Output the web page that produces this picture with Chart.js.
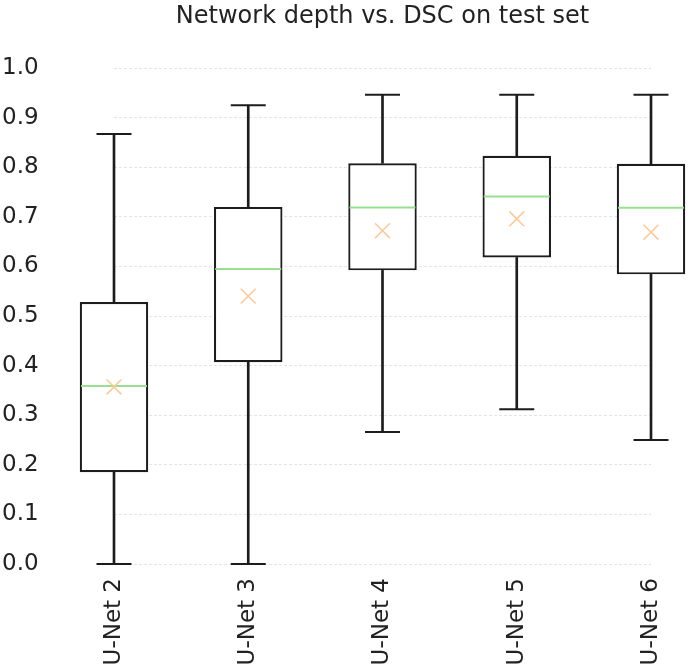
<!DOCTYPE html>
<html>
<head>
<meta charset="utf-8">
<script src="https://cdn.jsdelivr.net/npm/chart.js@4.4.1/dist/chart.umd.min.js"></script>
<style>
  html, body { margin: 0; padding: 0; background: #fff; }
  #wrap { width: 688px; height: 668px; }
</style>
</head>
<body>
<div id="wrap"><canvas id="c" width="688" height="668"></canvas></div>
<script>
const categories = ["U-Net 2", "U-Net 3", "U-Net 4", "U-Net 5", "U-Net 6"];
const whiskerLow = [0.0, 0.0, 0.266, 0.312, 0.250];
const q1 = [0.185, 0.407, 0.592, 0.618, 0.584];
const median = [0.359, 0.595, 0.719, 0.741, 0.718];
const mean = [0.357, 0.540, 0.672, 0.696, 0.669];
const q3 = [0.528, 0.720, 0.808, 0.823, 0.807];
const whiskerHigh = [0.867, 0.925, 0.946, 0.946, 0.946];
const yTicks = [0.0, 0.1, 0.2, 0.3, 0.4, 0.5, 0.6, 0.7, 0.8, 0.9, 1.0];
const titleText = "Network depth vs. DSC on test set";

const FONT = "'DejaVu Sans', sans-serif";
const lineCol = '#1c1c1c';

const titlePlugin = {
  id: 'centerTitle',
  afterDraw(chart) {
    const ctx = chart.ctx;
    const a = chart.chartArea;
    ctx.save();
    ctx.font = "24px " + FONT;
    ctx.fillStyle = '#222';
    ctx.textAlign = 'center';
    ctx.textBaseline = 'alphabetic';
    ctx.fillText(titleText, (a.left + a.right) / 2, 23);
    ctx.restore();
  }
};

new Chart(document.getElementById('c'), {
  type: 'bar',
  data: {
    labels: categories,
    datasets: [
      {
        type: 'bar', label: 'upper whisker', order: 5, grouped: false, clip: false,
        data: categories.map((_, i) => [q3[i], whiskerHigh[i]]),
        backgroundColor: lineCol, borderWidth: 0, barThickness: 2
      },
      {
        type: 'bar', label: 'lower whisker', order: 5, grouped: false, clip: false,
        data: categories.map((_, i) => [whiskerLow[i], q1[i]]),
        backgroundColor: lineCol, borderWidth: 0, barThickness: 2
      },
      {
        type: 'line', label: 'caps high', order: 4, showLine: false, clip: false,
        data: whiskerHigh, pointStyle: 'line', pointRadius: 17.5,
        pointBorderColor: lineCol, pointBorderWidth: 2, borderColor: lineCol
      },
      {
        type: 'line', label: 'caps low', order: 4, showLine: false, clip: false,
        data: whiskerLow, pointStyle: 'line', pointRadius: 17.5,
        pointBorderColor: lineCol, pointBorderWidth: 2, borderColor: lineCol
      },
      {
        type: 'bar', label: 'box', order: 3, grouped: false, clip: false,
        data: categories.map((_, i) => [q1[i], q3[i]]),
        backgroundColor: 'rgba(255,255,255,1)', borderColor: lineCol, borderWidth: 2.2,
        borderSkipped: false, categoryPercentage: 1.0, barPercentage: 0.51
      },
      {
        type: 'line', label: 'median', order: 2, showLine: false, clip: false,
        data: median, pointStyle: 'line', pointRadius: 33,
        pointBorderColor: '#98e08f', pointBorderWidth: 2, borderColor: '#98e08f'
      },
      {
        type: 'line', label: 'mean', order: 1, showLine: false, clip: false,
        data: mean, pointStyle: 'crossRot', pointRadius: 10.5,
        pointBorderColor: '#fdc896', pointBorderWidth: 1.5, borderColor: '#fdc896'
      }
    ]
  },
  options: {
    responsive: false,
    animation: false,
    events: [],
    layout: { padding: { top: 68, left: 2, right: 37, bottom: 0 } },
    plugins: {
      legend: { display: false },
      title: { display: false },
      tooltip: { enabled: false }
    },
    scales: {
      x: {
        type: 'category',
        offset: false,
        afterFit(scale) { scale.height = 104; scale.paddingLeft = 0; scale.paddingRight = 0; },
        grid: { display: false, drawTicks: false },
        border: { display: false },
        ticks: {
          autoSkip: false, minRotation: 90, maxRotation: 90, padding: 14,
          color: '#222', font: { family: FONT, size: 23 }
        }
      },
      y: {
        min: 0, max: 1,
        afterFit(scale) { scale.width = 112; scale.paddingTop = 0; scale.paddingBottom = 0; },
        afterBuildTicks(scale) { scale.ticks = yTicks.map(v => ({ value: v })); },
        grid: { color: '#e4e4e4', lineWidth: 1, drawTicks: false },
        border: { display: false, dash: [3, 2] },
        ticks: {
          padding: 0, crossAlign: 'far', color: '#222', font: { family: FONT, size: 23 },
          callback: v => Number(v).toFixed(1)
        }
      }
    }
  },
  plugins: [titlePlugin]
});
</script>
</body>
</html>
